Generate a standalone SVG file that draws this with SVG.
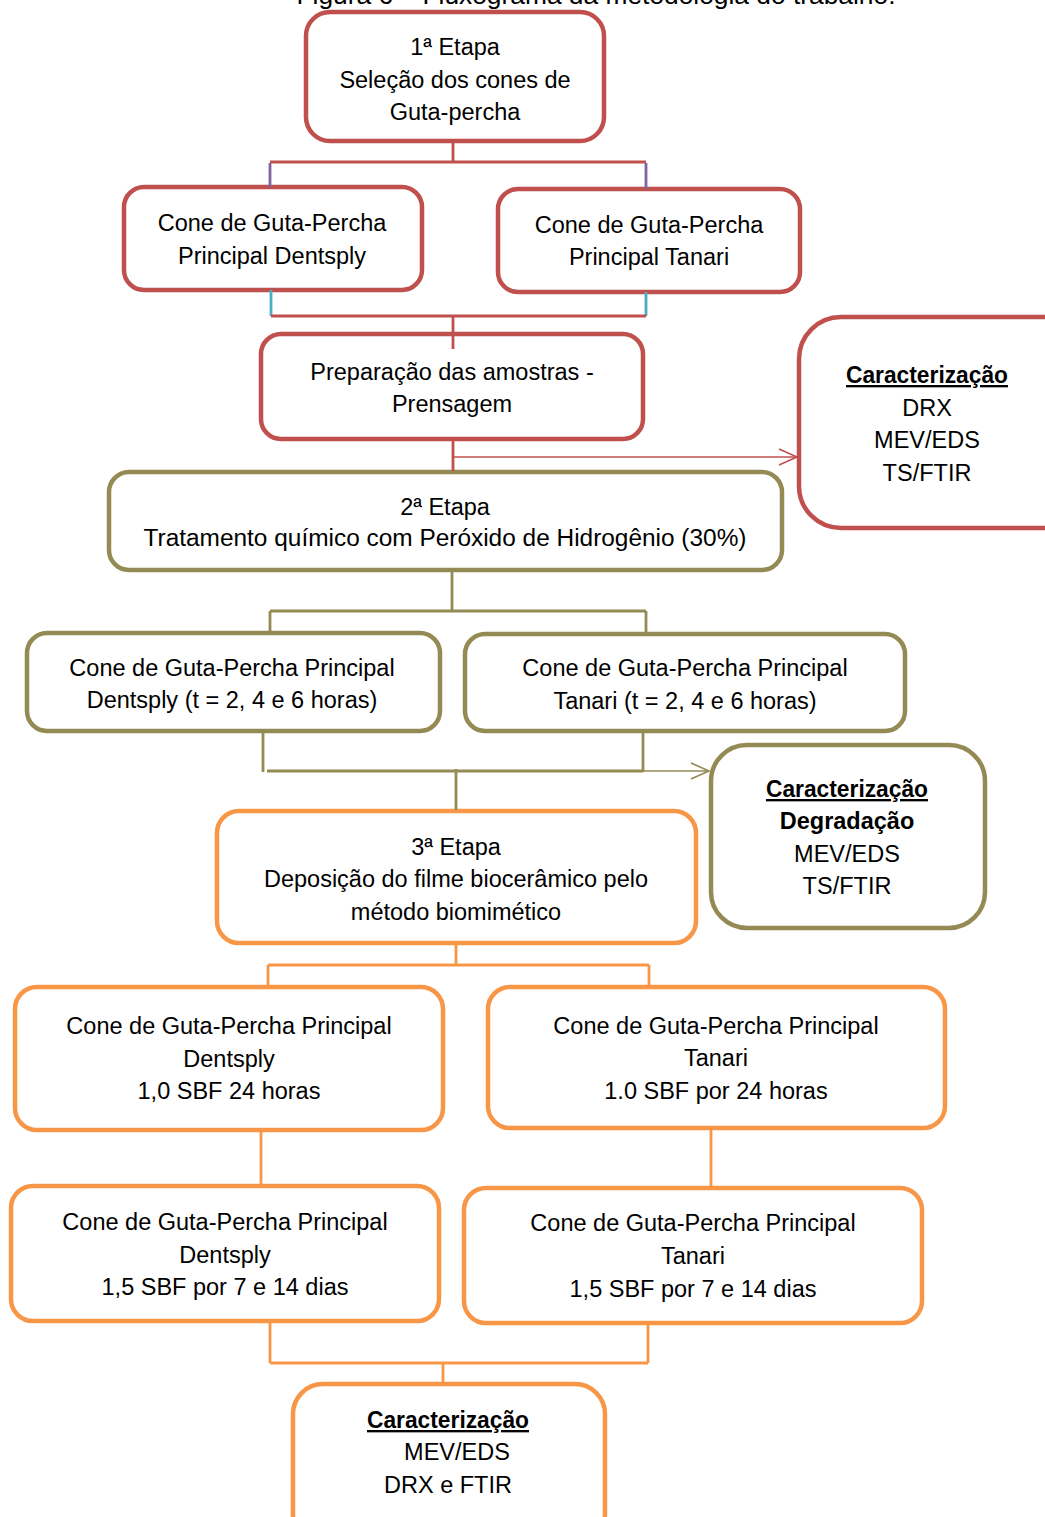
<svg xmlns="http://www.w3.org/2000/svg" width="1045" height="1517" viewBox="0 0 1045 1517">
<style>
  text { font-family: "Liberation Sans", Arial, sans-serif; font-size: 23.5px; fill: #000; text-anchor: middle; }
  .title { font-size: 26px; }
  .b { font-weight: bold; }
  .u { text-decoration: underline; }
  .box { fill: #fff; stroke-width: 4.5; }
  .red { stroke: #C0504D; }
  .olive { stroke: #948A54; }
  .orange { stroke: #F79646; }
  .c { fill: none; stroke-width: 2.8; }
  .cred { stroke: #C0504D; }
  .colive { stroke: #948A54; }
  .corange { stroke: #F79646; }
  .cpurple { stroke: #8064A2; }
  .ccyan { stroke: #4BACC6; }
  .thin { fill: none; stroke-width: 1.6; }
</style>
<defs>
  <marker id="arrRed" markerUnits="userSpaceOnUse" markerWidth="22" markerHeight="20" refX="19" refY="9" orient="auto">
    <path d="M1,1 L19,9 L1,17" fill="none" stroke="#C0504D" stroke-width="1.6"/>
  </marker>
  <marker id="arrOlive" markerUnits="userSpaceOnUse" markerWidth="22" markerHeight="20" refX="19" refY="9" orient="auto">
    <path d="M1,1 L19,9 L1,17" fill="none" stroke="#948A54" stroke-width="1.6"/>
  </marker>
</defs>
<rect width="1045" height="1517" fill="#fff"/>

<text class="title" x="596" y="4" textLength="599" lengthAdjust="spacingAndGlyphs">Figura 6 – Fluxograma da metodologia do trabalho.</text>

<g id="n1">
  <rect class="box red" x="306" y="12" width="298" height="129" rx="24"/>
  <text x="455" y="55">1ª Etapa</text>
  <text x="455" y="87.5">Seleção dos cones de</text>
  <text x="455" y="120">Guta-percha</text>
</g>
<g id="n2a">
  <rect class="box red" x="124" y="187" width="298" height="103" rx="20"/>
  <text x="272" y="231">Cone de Guta-Percha</text>
  <text x="272" y="264">Principal Dentsply</text>
</g>
<g id="n2b">
  <rect class="box red" x="498" y="189" width="302" height="103" rx="20"/>
  <text x="649" y="233">Cone de Guta-Percha</text>
  <text x="649" y="265">Principal Tanari</text>
</g>
<g id="n3">
  <rect class="box red" x="261" y="334" width="382" height="105" rx="20"/>
  <text x="452" y="380">Preparação das amostras -</text>
  <text x="452" y="412">Prensagem</text>
</g>
<g id="c1">
  <rect class="box red" x="799" y="317" width="290" height="211" rx="42"/>
  <text class="b u" x="927" y="383" textLength="162" lengthAdjust="spacingAndGlyphs">Caracterização</text>
  <text x="927" y="416">DRX</text>
  <text x="927" y="448">MEV/EDS</text>
  <text x="927" y="481">TS/FTIR</text>
</g>
<g id="n4">
  <rect class="box olive" x="109" y="472" width="673" height="98" rx="20"/>
  <text x="445" y="515">2ª Etapa</text>
  <text x="445" y="546" textLength="603" lengthAdjust="spacingAndGlyphs">Tratamento químico com Peróxido de Hidrogênio (30%)</text>
</g>
<g id="n5a">
  <rect class="box olive" x="27" y="633" width="413" height="98" rx="20"/>
  <text x="232" y="676">Cone de Guta-Percha Principal</text>
  <text x="232" y="708">Dentsply (t = 2, 4 e 6 horas)</text>
</g>
<g id="n5b">
  <rect class="box olive" x="465" y="634" width="440" height="97" rx="20"/>
  <text x="685" y="676">Cone de Guta-Percha Principal</text>
  <text x="685" y="709">Tanari (t = 2, 4 e 6 horas)</text>
</g>
<g id="c2">
  <rect class="box olive" x="711" y="745" width="274" height="183" rx="36"/>
  <text class="b u" x="847" y="797" textLength="162" lengthAdjust="spacingAndGlyphs">Caracterização</text>
  <text class="b" x="847" y="829">Degradação</text>
  <text x="847" y="862">MEV/EDS</text>
  <text x="847" y="894">TS/FTIR</text>
</g>
<g id="n6">
  <rect class="box orange" x="217" y="811" width="479" height="132" rx="22"/>
  <text x="456" y="855">3ª Etapa</text>
  <text x="456" y="887">Deposição do filme biocerâmico pelo</text>
  <text x="456" y="920">método biomimético</text>
</g>
<g id="n7a">
  <rect class="box orange" x="15" y="987" width="428" height="143" rx="22"/>
  <text x="229" y="1034">Cone de Guta-Percha Principal</text>
  <text x="229" y="1067">Dentsply</text>
  <text x="229" y="1099">1,0 SBF 24 horas</text>
</g>
<g id="n7b">
  <rect class="box orange" x="488" y="987" width="457" height="141" rx="22"/>
  <text x="716" y="1034">Cone de Guta-Percha Principal</text>
  <text x="716" y="1066">Tanari</text>
  <text x="716" y="1099">1.0 SBF por 24 horas</text>
</g>
<g id="n8a">
  <rect class="box orange" x="11" y="1186" width="428" height="135" rx="22"/>
  <text x="225" y="1230">Cone de Guta-Percha Principal</text>
  <text x="225" y="1263">Dentsply</text>
  <text x="225" y="1295">1,5 SBF por 7 e 14 dias</text>
</g>
<g id="n8b">
  <rect class="box orange" x="464" y="1188" width="458" height="135" rx="22"/>
  <text x="693" y="1231">Cone de Guta-Percha Principal</text>
  <text x="693" y="1264">Tanari</text>
  <text x="693" y="1297">1,5 SBF por 7 e 14 dias</text>
</g>
<g id="c3">
  <rect class="box orange" x="293" y="1384" width="312" height="160" rx="30"/>
  <text class="b u" x="448" y="1428" textLength="162" lengthAdjust="spacingAndGlyphs">Caracterização</text>
  <text x="457" y="1460">MEV/EDS</text>
  <text x="448" y="1493">DRX e FTIR</text>
</g>

<g id="connectors">
  <path class="c cred" d="M453,141 V162 M270,162 H646"/>
  <path class="c cpurple" d="M270,163 V187 M646,163 V189"/>
  <path class="c ccyan" d="M271,290 V316 M646,292 V316"/>
  <path class="c cred" d="M271,316 H646 M453,316 V349"/>
  <path class="c cred" d="M453,439 V471"/>
  <path class="thin" stroke="#C0504D" d="M453,457 H797" marker-end="url(#arrRed)"/>
  <path class="c colive" d="M452,570 V611 M270,611 H646 M270,611 V633 M646,611 V634"/>
  <path class="c colive" d="M263,731 V772 M267,771 H643 M643,731 V772 M456,769 V810"/>
  <path class="thin" stroke="#948A54" d="M643,771 H709" marker-end="url(#arrOlive)"/>
  <path class="c corange" d="M456,943 V965 M268,965 H649 M268,965 V987 M649,965 V987"/>
  <path class="c corange" d="M261,1130 V1186 M711,1128 V1188"/>
  <path class="c corange" d="M270,1321 V1363 M648,1323 V1363 M270,1363 H648 M443,1363 V1384"/>
</g>
</svg>
